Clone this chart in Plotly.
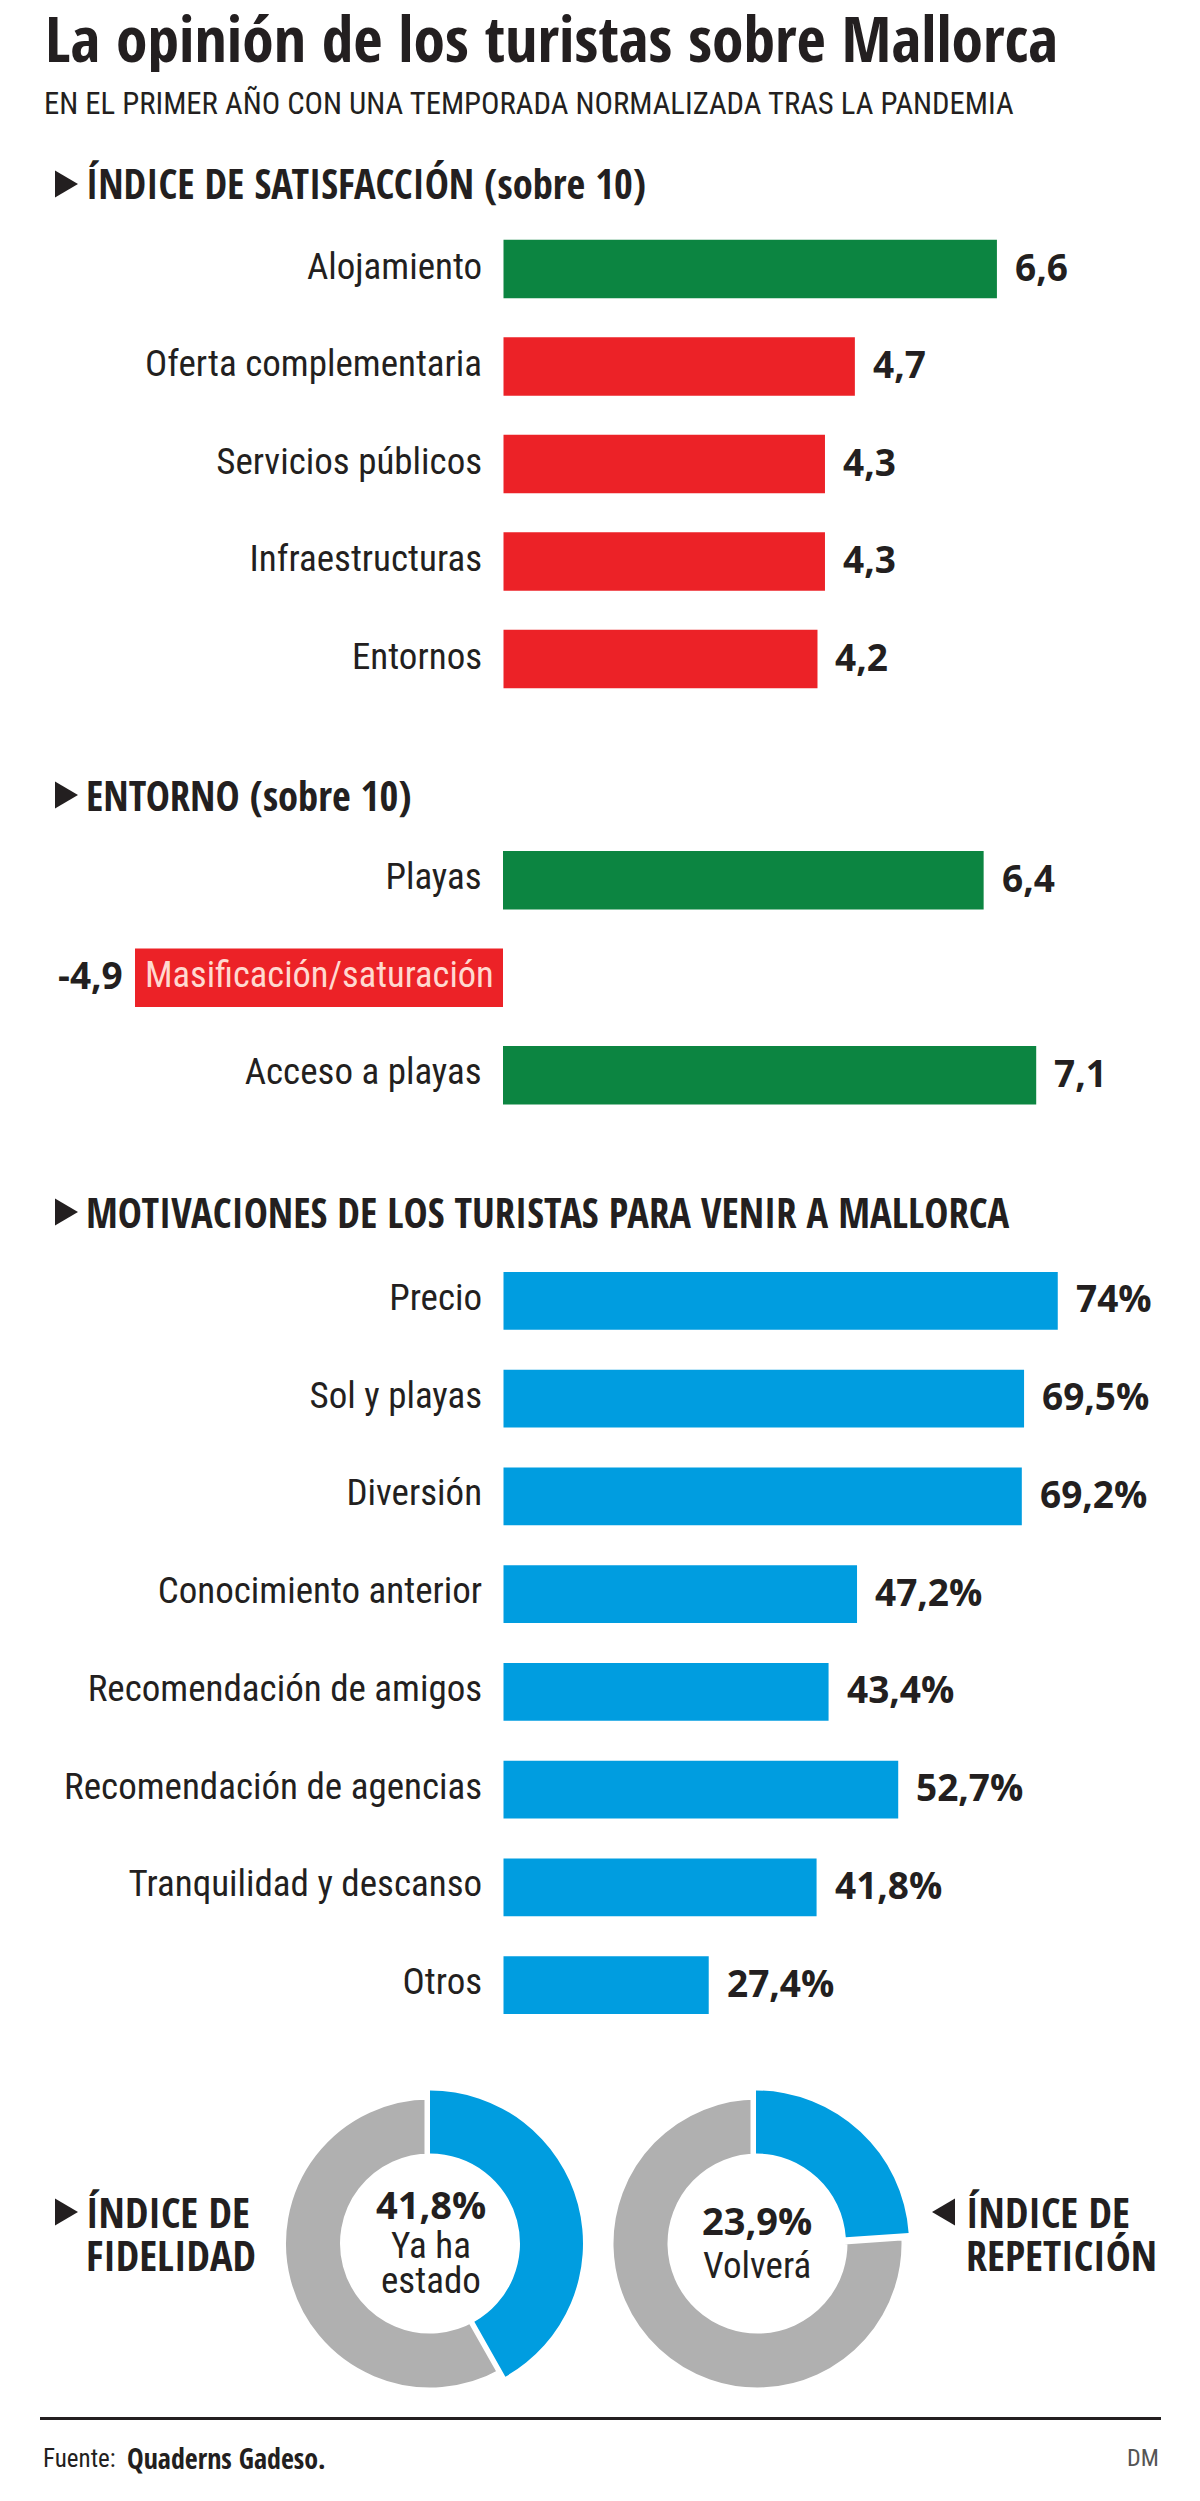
import plotly.graph_objects as go

W, H = 1200, 2501
BODY = "Roboto Condensed"
HEAD = "Open Sans Condensed"
VALUE = "Open Sans"
INK = "#231f20"
GREEN, RED, BLUE, GREY = "#0c8541", "#ec2227", "#009de0", "#b0b0b0"

# Data
sat_cats = ["Alojamiento", "Oferta complementaria", "Servicios públicos", "Infraestructuras", "Entornos"]
sat_vals = [6.6, 4.7, 4.3, 4.3, 4.2]
sat_labels = ["6,6", "4,7", "4,3", "4,3", "4,2"]
sat_cols = [GREEN, RED, RED, RED, RED]

ent_cats = ["Playas", "Masificación/saturación", "Acceso a playas"]
ent_vals = [6.4, -4.9, 7.1]
ent_labels = ["6,4", "-4,9", "7,1"]
ent_cols = [GREEN, RED, GREEN]

mot_cats = ["Precio", "Sol y playas", "Diversión", "Conocimiento anterior", "Recomendación de amigos",
            "Recomendación de agencias", "Tranquilidad y descanso", "Otros"]
mot_vals = [74, 69.5, 69.2, 47.2, 43.4, 52.7, 41.8, 27.4]
mot_labels = ["74%", "69,5%", "69,2%", "47,2%", "43,4%", "52,7%", "41,8%", "27,4%"]

fid_share = [41.8, 58.2]
rep_share = [23.9, 76.1]


def px(x):
    return x / W


def py(y):
    return 1 - y / H


fig = go.Figure()
annotations = []
shapes = []


def text(x, y, s, size, font=BODY, bold=False, anchor="left", color=INK, height=None):
    annotations.append(dict(
        xref="paper", yref="paper", x=px(x), y=py(y), text=f"<b>{s}</b>" if bold else s,
        showarrow=False, xanchor=anchor, yanchor="middle", borderpad=0, height=height,
        font=dict(family=font, size=size, color=color)))


def tri(x0, x1, yc, h, left=False):
    a, b = (x1, x0) if left else (x0, x1)
    path = f"M {px(a)} {py(yc - h / 2)} L {px(b)} {py(yc)} L {px(a)} {py(yc + h / 2)} Z"
    shapes.append(dict(type="path", xref="paper", yref="paper", path=path, fillcolor=INK, line_width=0))


def section(n, cats, vals, labels, cols, zero, scale, top, bottom, bar, shown, shift, label_shift):
    sx = "" if n == 1 else str(n)
    fig.add_trace(go.Bar(y=cats, x=vals, orientation="h", marker=dict(color=cols, line_width=0), width=bar,
                         xaxis="x" + sx, yaxis="y" + sx, hoverinfo="skip", showlegend=False))
    fig.update_layout({
        "xaxis" + sx: dict(domain=[0, 1], range=[-zero / scale, (W - zero) / scale], visible=False,
                           anchor="y" + sx, fixedrange=True),
        "yaxis" + sx: dict(domain=[py(bottom), py(top)], range=[len(cats) - 0.5, -0.5], type="category",
                           categoryorder="array", categoryarray=cats, tickmode="array", tickvals=shown,
                           ticktext=shown, anchor="free", position=zero / W, showline=False, showgrid=False,
                           zeroline=False, ticks="outside", ticklen=14, tickcolor="rgba(0,0,0,0)",
                           ticklabelshift=label_shift,
                           tickfont=dict(family=BODY, size=37, color=INK), fixedrange=True),
    })
    for c, v, l in zip(cats, vals, labels):
        annotations.append(dict(
            xref="x" + sx, yref="y" + sx, x=v, y=c, text=f"<b>{l}</b>", showarrow=False,
            xanchor="left" if v >= 0 else "right", xshift=shift if v >= 0 else -10, yshift=3, yanchor="middle",
            font=dict(family=VALUE, size=37, color=INK)))


section(1, sat_cats, sat_vals, sat_labels, sat_cols, 503.5, 74.76, 220.25, 707.75, 0.6, sat_cats, 16, 3)
section(2, ent_cats, ent_vals, ent_labels, ent_cols, 503, 75.1, 831.5, 1124, 0.6, [ent_cats[0], ent_cats[2]], 16, 4)
section(3, mot_cats, mot_vals, mot_labels, [BLUE] * len(mot_cats), 503.5, 7.49, 1252, 2034, 0.593, mot_cats, 16, 4)

annotations.append(dict(xref="x2", yref="y2", x=ent_vals[1] / 2, y=ent_cats[1], yshift=3, text=ent_cats[1],
                        showarrow=False, font=dict(family=BODY, size=36.5, color="#ffd9d0")))


def donut(cx_grey, cx_blue, cy, share, gap):
    # grey ring first: its white outline opens the gap next to the blue slice
    r_g, r_b = 144 + gap, 153
    fig.add_trace(go.Pie(values=share, sort=False, direction="clockwise", rotation=0, textinfo="none",
                         hole=(90 - gap) / r_g, showlegend=False, hoverinfo="skip",
                         marker=dict(colors=["rgba(0,0,0,0)", GREY],
                                     line=dict(color=["rgba(0,0,0,0)", "#ffffff"], width=[0, 2 * gap])),
                         domain=dict(x=[px(cx_grey - r_g), px(cx_grey + r_g)], y=[py(cy + r_g), py(cy - r_g)])))
    fig.add_trace(go.Pie(values=share, sort=False, direction="clockwise", rotation=0, textinfo="none",
                         hole=90 / r_b, showlegend=False, hoverinfo="skip",
                         marker=dict(colors=[BLUE, "rgba(0,0,0,0)"], line=dict(width=0)),
                         domain=dict(x=[px(cx_blue - r_b), px(cx_blue + r_b)], y=[py(cy + r_b), py(cy - r_b)])))


donut(430, 430, 2243.5, fid_share, 5.5)
donut(757.5, 756, 2243.5, rep_share, 7)

# Texts
text(44, 37, "La opinión de los turistas sobre Mallorca", 63.7, font=HEAD, height=70)
text(43, 103, "EN EL PRIMER AÑO CON UNA TEMPORADA NORMALIZADA TRAS LA PANDEMIA", 30.7)

for y, s in [(184, "ÍNDICE DE SATISFACCIÓN (sobre 10)"), (795, "ENTORNO (sobre 10)"),
             (1212, "MOTIVACIONES DE LOS TURISTAS PARA VENIR A MALLORCA")]:
    tri(55, 78, y, 27)
    text(85, y, s, 40.6, font=HEAD)

tri(55, 78, 2212, 27)
text(85, 2211, "ÍNDICE DE", 42, font=HEAD)
text(85, 2254, "FIDELIDAD", 42, font=HEAD)
tri(932, 955, 2212, 27, left=True)
text(965, 2211, "ÍNDICE DE", 42, font=HEAD)
text(965, 2254, "REPETICIÓN", 42, font=HEAD)

text(431, 2204, "41,8%", 38, font=VALUE, bold=True, anchor="center")
text(431, 2245, "Ya ha", 37, anchor="center")
text(431, 2280, "estado", 37, anchor="center")
text(757, 2220, "23,9%", 38, font=VALUE, bold=True, anchor="center")
text(757, 2265, "Volverá", 37, anchor="center")

shapes.append(dict(type="line", xref="paper", yref="paper", x0=px(40), x1=px(1161), y0=py(2418.5), y1=py(2418.5),
                   line=dict(color=INK, width=3)))
text(42, 2458, "Fuente:", 25)
text(126, 2458, "Quaderns Gadeso.", 28, font=HEAD)
text(1160, 2458, "DM", 24, anchor="right", color="#555555")

fig.update_layout(width=W, height=H, margin=dict(l=0, r=0, t=0, b=0), paper_bgcolor="white", plot_bgcolor="white",
                  annotations=annotations, shapes=shapes, showlegend=False)
fig.write_html("out.html", config=dict(displayModeBar=False), post_script="document.body.style.margin='0';")
